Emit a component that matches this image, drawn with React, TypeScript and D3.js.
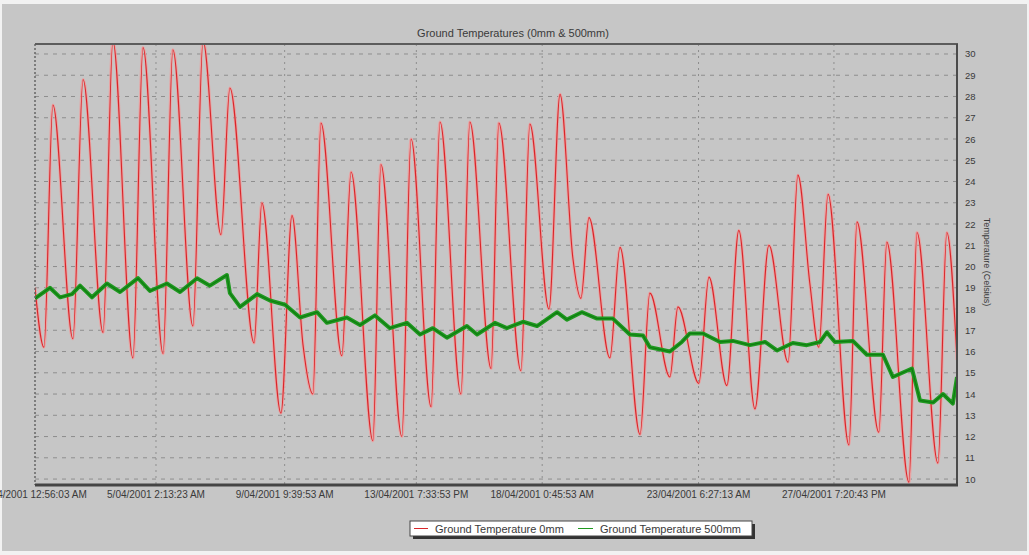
import * as d3 from "d3";

// [days since first sample, °C]
const surfaceReadings: [number, number][] = [
  [0.0, 19.0], [0.3, 16.2], [0.6, 27.6], [1.27, 16.6], [1.61, 28.8], [2.28, 16.9],
  [2.61, 30.6], [3.28, 15.7], [3.62, 30.3], [4.29, 15.9], [4.62, 30.2], [5.29, 17.2],
  [5.63, 30.6], [6.23, 21.5], [6.53, 28.4], [7.34, 16.4], [7.6, 23.0], [8.24, 13.1],
  [8.61, 22.4], [8.98, 16.3], [9.31, 14.0], [9.58, 26.75], [10.28, 15.8], [10.59, 24.45],
  [11.32, 11.8], [11.59, 24.8], [12.29, 12.0], [12.6, 26.0], [13.27, 13.4], [13.57, 26.8],
  [14.27, 14.0], [14.57, 26.8], [15.28, 15.2], [15.54, 26.75], [16.28, 15.1], [16.58, 26.7],
  [17.22, 18.0], [17.59, 28.1], [18.02, 20.4], [18.29, 18.5], [18.56, 22.3], [19.26, 15.7],
  [19.6, 20.9], [20.27, 12.1], [20.6, 18.75], [21.27, 14.8], [21.54, 18.1], [22.24, 14.5],
  [22.58, 19.5], [23.18, 14.4], [23.58, 21.7], [24.12, 13.3], [24.59, 21.0], [25.23, 15.5],
  [25.56, 24.3], [25.96, 19.2], [26.26, 16.2], [26.57, 23.4], [27.27, 11.6], [27.54, 22.1],
  [28.27, 12.2], [28.54, 21.15], [29.28, 9.85], [29.55, 21.6], [30.25, 10.75], [30.55, 21.6],
  [30.89, 15.6],
];

const deepReadings: [number, number][] = [
  [0.0, 18.5], [0.5, 19.0], [0.84, 18.55], [1.24, 18.7], [1.51, 19.1], [1.91, 18.55],
  [2.41, 19.2], [2.85, 18.8], [3.45, 19.45], [3.85, 18.85], [4.42, 19.2], [4.86, 18.8],
  [5.43, 19.45], [5.86, 19.1], [6.43, 19.6], [6.53, 18.75], [6.87, 18.1], [7.44, 18.7],
  [7.87, 18.4], [8.38, 18.2], [8.88, 17.6], [9.45, 17.85], [9.78, 17.35], [10.45, 17.6],
  [10.89, 17.25], [11.39, 17.7], [11.89, 17.1], [12.46, 17.35], [12.9, 16.8], [13.33, 17.1],
  [13.8, 16.65], [14.47, 17.2], [14.81, 16.8], [15.41, 17.35], [15.81, 17.1], [16.35, 17.4],
  [16.82, 17.2], [17.49, 17.85], [17.82, 17.5], [18.32, 17.85], [18.83, 17.55], [19.36, 17.55],
  [19.93, 16.8], [20.37, 16.75], [20.6, 16.2], [21.27, 16.0], [21.67, 16.45], [21.94, 16.85],
  [22.38, 16.85], [22.95, 16.45], [23.38, 16.5], [23.95, 16.3], [24.46, 16.45], [24.86, 16.05],
  [25.39, 16.4], [25.86, 16.3], [26.3, 16.45], [26.53, 16.9], [26.8, 16.45], [27.4, 16.5],
  [27.87, 15.85], [28.41, 15.85], [28.74, 14.8], [29.38, 15.2], [29.65, 13.7], [30.09, 13.6],
  [30.42, 14.0], [30.75, 13.55], [30.89, 14.8],
];

const timeTickLabels = [
  "1/04/2001 12:56:03 AM",
  "5/04/2001 2:13:23 AM",
  "9/04/2001 9:39:53 AM",
  "13/04/2001 7:33:53 PM",
  "18/04/2001 0:45:53 AM",
  "23/04/2001 6:27:13 AM",
  "27/04/2001 7:20:43 PM",
];

const tempTicks = d3.range(10, 31);
const seriesNames = ["Ground Temperature 0mm", "Ground Temperature 500mm"];

const W = 1029;
const H = 555;
const plot = { left: 35, right: 957, top: 44, bottom: 485 };
const font = "'Liberation Sans', Arial, sans-serif";
const textColor = "#3a3a3a";

const parseTick = d3.utcParse("%d/%m/%Y %I:%M:%S %p");
const start = parseTick(timeTickLabels[0]) as Date;
const dayMs = 86400000;
const toDate = (d: number) => new Date(start.getTime() + d * dayMs);

const x = d3
  .scaleUtc()
  .domain([start, toDate(30.89)])
  .range([plot.left, plot.right]);

const y = d3.scaleLinear().domain([9.72, 30.47]).range([plot.bottom, plot.top]);

const surfaceLine = d3
  .line<[number, number]>()
  .x((d) => x(toDate(d[0])))
  .y((d) => y(d[1]))
  .curve(d3.curveMonotoneX);

const deepLine = d3
  .line<[number, number]>()
  .x((d) => x(toDate(d[0])))
  .y((d) => y(d[1]));

export default function App() {
  const ticks = timeTickLabels.map((label) => ({
    label,
    pos: x(parseTick(label) as Date),
  }));

  const legendX = 410;
  const legendY = 521;

  return (
    <div style={{ position: "absolute", left: 0, top: 0 }}>
      <svg width={W} height={H} style={{ display: "block" }}>
        <defs>
          <clipPath id="plotClip">
            <rect
              x={plot.left}
              y={plot.top}
              width={plot.right - plot.left}
              height={plot.bottom - plot.top}
            />
          </clipPath>
        </defs>
        <rect x={0} y={0} width={W} height={H} fill="#f2f2f2" />
        <rect x={2} y={4} width={W - 4} height={H - 8} fill="#c6c6c6" />

        <text
          x={513}
          y={37}
          textAnchor="middle"
          fontFamily={font}
          fontSize={11}
          fill={textColor}
        >
          Ground Temperatures (0mm &amp; 500mm)
        </text>

        {/* horizontal grid */}
        {tempTicks.map((t) => (
          <line
            key={t}
            x1={plot.left}
            x2={plot.right}
            y1={y(t)}
            y2={y(t)}
            stroke="#8e8e8e"
            strokeWidth={1}
            strokeDasharray="4,5"
          />
        ))}
        {/* vertical grid */}
        {ticks.slice(1).map((t) => (
          <line
            key={t.label}
            x1={t.pos}
            x2={t.pos}
            y1={plot.top}
            y2={plot.bottom}
            stroke="#8e8e8e"
            strokeWidth={1}
            strokeDasharray="2,4"
          />
        ))}

        <g clipPath="url(#plotClip)">
          <path
            d={surfaceLine(surfaceReadings) ?? ""}
            fill="none"
            stroke="#ef9c9c"
            strokeWidth={3}
            strokeOpacity={0.85}
          />
          <path
            d={surfaceLine(surfaceReadings) ?? ""}
            fill="none"
            stroke="#d8262a"
            strokeWidth={1.1}
          />
          <path
            d={deepLine(deepReadings) ?? ""}
            fill="none"
            stroke="#1f991f"
            strokeWidth={4}
            strokeLinejoin="round"
          />
          <path
            d={deepLine(deepReadings) ?? ""}
            fill="none"
            stroke="#0f7d12"
            strokeWidth={1.2}
          />
        </g>

        {/* frame */}
        <line
          x1={plot.left}
          x2={plot.left}
          y1={plot.top}
          y2={plot.bottom}
          stroke="#666"
          strokeWidth={1.5}
          strokeDasharray="2,2"
        />
        <line x1={plot.left} x2={plot.right + 1} y1={plot.top} y2={plot.top} stroke="#5c5c5c" strokeWidth={2} />
        <line x1={plot.right} x2={plot.right} y1={plot.top} y2={plot.bottom + 1} stroke="#4a4a4a" strokeWidth={2} />
        <line x1={plot.left} x2={plot.right + 1} y1={plot.bottom} y2={plot.bottom} stroke="#444" strokeWidth={3} />

        {/* right axis */}
        {tempTicks.map((t) => (
          <text
            key={t}
            x={965}
            y={y(t) + 3.5}
            fontFamily={font}
            fontSize={9.5}
            fill={textColor}
          >
            {t}
          </text>
        ))}
        <text
          transform={`translate(984, 262) rotate(90)`}
          textAnchor="middle"
          fontFamily={font}
          fontSize={9}
          fill={textColor}
        >
          Temperature (Celsius)
        </text>

        {/* bottom axis */}
        {ticks.map((t) => (
          <text
            key={t.label}
            x={t.pos}
            y={498}
            textAnchor="middle"
            fontFamily={font}
            fontSize={10}
            fill={textColor}
          >
            {t.label}
          </text>
        ))}

        {/* legend */}
        <rect x={legendX + 3} y={legendY + 3} width={342} height={15} fill="#333" />
        <rect x={legendX} y={legendY} width={342} height={15} fill="#fff" stroke="#444" strokeWidth={1} />
        <line x1={legendX + 4} x2={legendX + 18} y1={legendY + 7.5} y2={legendY + 7.5} stroke="#d8262a" strokeWidth={1} />
        <text x={legendX + 25} y={legendY + 11.5} fontFamily={font} fontSize={11} fill={textColor}>
          {seriesNames[0]}
        </text>
        <line x1={legendX + 168} x2={legendX + 183} y1={legendY + 7.5} y2={legendY + 7.5} stroke="#1f991f" strokeWidth={1} />
        <text x={legendX + 190} y={legendY + 11.5} fontFamily={font} fontSize={11} fill={textColor}>
          {seriesNames[1]}
        </text>
      </svg>
    </div>
  );
}
